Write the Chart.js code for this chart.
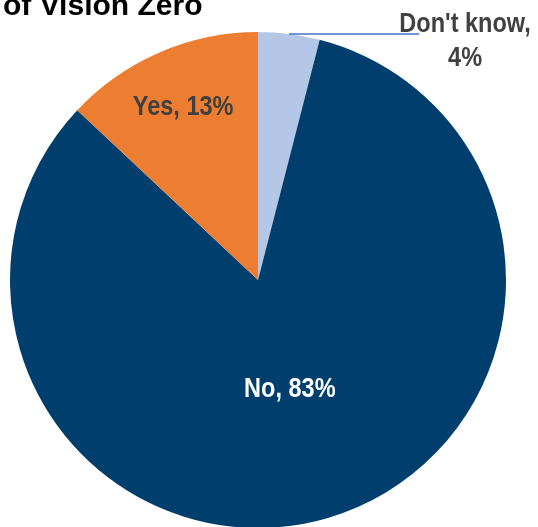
<!DOCTYPE html>
<html lang="en">
<head>
    <meta charset="UTF-8">
    <title>Vision Zero awareness</title>
    <style>
        * { margin: 0; padding: 0; box-sizing: border-box; }
        html, body { width: 538px; height: 527px; overflow: hidden; background: #FFFFFF; }
        .chart-container { position: relative; width: 538px; height: 540px; }
    </style>
</head>
<body>
    <div class="chart-container">
        <canvas id="pie"></canvas>
    </div>

    <script src="https://cdn.jsdelivr.net/npm/chart.js@4/dist/chart.umd.min.js"></script>
    <script>
        const categories = ["Don't know", 'No', 'Yes'];
        const shares = [4, 83, 13];
        const sliceColors = ['#B4C7E7', '#003F6D', '#ED7D31'];
        const labelColors = ['#404040', '#FFFFFF', '#404040'];
        const titleText = 'of Vision Zero';

        const labelFont = 'bold 28px "Liberation Sans", Arial, sans-serif';

        // narrow bold text: squeeze the regular face horizontally
        function fillNarrow(ctx, text, x, y) {
            ctx.save();
            ctx.translate(x, y);
            ctx.scale(0.84, 1);
            ctx.fillText(text, 0, 0);
            ctx.restore();
        }

        // slice labels: inside for the big slices, outside with a leader line for the small one
        const sliceLabels = {
            id: 'sliceLabels',
            afterDatasetsDraw(chart) {
                const ctx = chart.ctx;
                const arcs = chart.getDatasetMeta(0).data;
                ctx.save();
                ctx.font = labelFont;
                ctx.textAlign = 'center';
                ctx.textBaseline = 'middle';
                arcs.forEach((arc, i) => {
                    const { x, y, startAngle, endAngle, outerRadius } = arc.getProps(['x', 'y', 'startAngle', 'endAngle', 'outerRadius'], true);
                    const mid = (startAngle + endAngle) / 2;
                    ctx.fillStyle = labelColors[i];
                    if (shares[i] < 5) {
                        const ex = x + Math.cos(mid) * outerRadius;
                        const ey = y + Math.sin(mid) * outerRadius;
                        ctx.strokeStyle = '#4472C4';
                        ctx.lineWidth = 1.5;
                        ctx.beginPath();
                        ctx.moveTo(ex, ey);
                        ctx.lineTo(ex + 130, ey);
                        ctx.stroke();
                        fillNarrow(ctx, categories[i] + ',', ex + 176, ey - 10);
                        fillNarrow(ctx, shares[i] + '%', ex + 176, ey + 24);
                    } else {
                        const r = shares[i] > 50 ? 0.46 : 0.76;
                        fillNarrow(ctx, categories[i] + ', ' + shares[i] + '%',
                            x + Math.cos(mid) * outerRadius * r, y + Math.sin(mid) * outerRadius * r);
                    }
                });
                ctx.restore();
            }
        };

        const topTitle = {
            id: 'topTitle',
            afterDraw(chart) {
                const ctx = chart.ctx;
                ctx.save();
                ctx.font = 'bold 30px "Liberation Sans", Arial, sans-serif';
                ctx.fillStyle = '#000000';
                ctx.textBaseline = 'alphabetic';
                ctx.fillText(titleText, 3, 15);
                ctx.restore();
            }
        };

        new Chart(document.getElementById('pie'), {
            type: 'pie',
            data: {
                labels: categories,
                datasets: [{ data: shares, backgroundColor: sliceColors, borderWidth: 0 }]
            },
            options: {
                responsive: true,
                maintainAspectRatio: false,
                animation: false,
                layout: { padding: { left: 10, right: 32, top: 32, bottom: 12 } },
                plugins: {
                    legend: { display: false },
                    tooltip: { enabled: false }
                }
            },
            plugins: [sliceLabels, topTitle]
        });
    </script>
</body>
</html>
